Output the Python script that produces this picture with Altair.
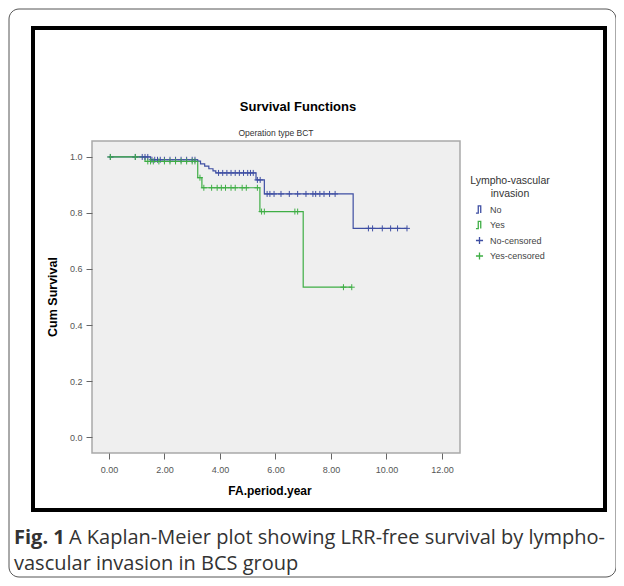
import altair as alt
import pandas as pd

# ---------------- data ----------------
series_names = ["No", "Yes", "No-censored", "Yes-censored"]

# Kaplan-Meier step curves (time in years, cumulative survival)
no_t = [0.0, 1.5, 3.2, 3.3, 3.45, 3.6, 3.75, 3.85, 5.3, 5.6, 8.8, 10.74]
no_s = [1.0, 0.99, 0.985, 0.975, 0.967, 0.958, 0.95, 0.943, 0.918, 0.868, 0.745, 0.745]
yes_t = [0.0, 1.3, 3.2, 3.35, 5.44, 7.0, 8.75]
yes_s = [1.0, 0.984, 0.926, 0.89, 0.805, 0.535, 0.535]

# censored observations (time, survival level at that time)
no_cens_t = [0.05, 0.95, 1.2, 1.3, 1.4, 1.55, 1.65, 1.75, 1.85, 2.0, 2.2, 2.4, 2.6, 2.8, 3.0, 3.1,
             3.95, 4.1, 4.25, 4.4, 4.55, 4.7, 4.85, 5.0, 5.1, 5.2, 5.35, 5.45,
             5.7, 5.8, 5.95, 6.2, 6.5, 6.8, 7.1, 7.35, 7.45, 7.6, 7.75, 7.95, 8.15,
             9.35, 9.5, 9.85, 10.15, 10.4, 10.74]
no_cens_s = [1.0, 1.0, 1.0, 1.0, 1.0, 0.99, 0.99, 0.99, 0.99, 0.99, 0.99, 0.99, 0.99, 0.99, 0.99, 0.99,
             0.943, 0.943, 0.943, 0.943, 0.943, 0.943, 0.943, 0.943, 0.943, 0.943, 0.918, 0.918,
             0.868, 0.868, 0.868, 0.868, 0.868, 0.868, 0.868, 0.868, 0.868, 0.868, 0.868, 0.868, 0.868,
             0.745, 0.745, 0.745, 0.745, 0.745, 0.745]
yes_cens_t = [0.05, 0.95, 1.4, 1.5, 1.6, 1.8, 2.0, 2.2, 2.4, 2.6, 2.8, 3.0, 3.1, 3.28,
              3.42, 3.7, 3.9, 4.05, 4.2, 4.4, 4.55, 4.8, 4.95, 5.35,
              5.5, 5.6, 6.7, 6.8, 8.45, 8.75]
yes_cens_s = [1.0, 1.0, 0.984, 0.984, 0.984, 0.984, 0.984, 0.984, 0.984, 0.984, 0.984, 0.984, 0.984, 0.926,
              0.89, 0.89, 0.89, 0.89, 0.89, 0.89, 0.89, 0.89, 0.89, 0.89,
              0.805, 0.805, 0.805, 0.805, 0.535, 0.535]

x_ticks = [0, 2, 4, 6, 8, 10, 12]
y_ticks = [0.0, 0.2, 0.4, 0.6, 0.8, 1.0]

# ---------------- tables ----------------
curves = pd.concat([
    pd.DataFrame({"t": no_t, "s": no_s, "series": "No"}),
    pd.DataFrame({"t": yes_t, "s": yes_s, "series": "Yes"}),
])
censored = pd.concat([
    pd.DataFrame({"t": no_cens_t, "s": no_cens_s, "series": "No-censored"}),
    pd.DataFrame({"t": yes_cens_t, "s": yes_cens_s, "series": "Yes-censored"}),
])

BLUE = "#3f4fa3"
GREEN = "#3fae45"
STEP = "M-1,1H-0.35V-1H0.35V1"
PLUS = "M-1,0H1M0,-1V1"

SANS = "Liberation Sans"

xscale = alt.Scale(domain=[-0.61, 12.65], nice=False, zero=False)
yscale = alt.Scale(domain=[-0.057, 1.057], nice=False, zero=False)
cscale = alt.Scale(domain=series_names, range=[BLUE, GREEN, BLUE, GREEN])
sscale = alt.Scale(domain=series_names, range=[STEP, STEP, PLUS, PLUS])

legend = alt.Legend(
    title=["Lympho-vascular", "invasion"],
    orient="none", legendX=378, legendY=35,
    titleFont=SANS, titleFontSize=10.5, titleFontWeight="normal", titleColor="#333",
    titleAlign="center", titleAnchor="middle", titlePadding=6,
    labelFont=SANS, labelFontSize=9, labelColor="#444", labelOffset=6,
    symbolSize=50, symbolStrokeWidth=1.3, rowPadding=2.5,
)

xaxis = alt.Axis(values=x_ticks, format=".2f", title=None, grid=False, domain=False,
                 labelFont=SANS, labelFontSize=9, labelColor="#555",
                 tickColor="#666", tickSize=6, labelPadding=6)
yaxis = alt.Axis(values=y_ticks, format=".1f", title=None, grid=False, domain=False,
                 labelFont=SANS, labelFontSize=9, labelColor="#555",
                 tickColor="#666", tickSize=6, labelPadding=4)

one = alt.Data(values=[{}])


def deco_text(txt, x, y, size, weight="normal", font=SANS, color="#000", align="center", angle=0):
    return alt.Chart(one).mark_text(
        text=txt, font=font, fontSize=size, fontWeight=weight, color=color,
        align=align, baseline="middle", angle=angle, clip=False,
    ).encode(x=alt.value(x), y=alt.value(y))


outer_box = alt.Chart(one).mark_rect(
    fillOpacity=0, stroke="#555", strokeWidth=1, cornerRadius=10, clip=False
).encode(x=alt.value(-83), x2=alt.value(524), y=alt.value(-132), y2=alt.value(436))

frame = alt.Chart(one).mark_rect(
    fillOpacity=0, stroke="#000", strokeWidth=4, clip=False
).encode(x=alt.value(-59), x2=alt.value(513), y=alt.value(-113), y2=alt.value(369))

lines = alt.Chart(curves).mark_line(interpolate="step-after", strokeWidth=1.2).encode(
    x=alt.X("t:Q", scale=xscale, axis=xaxis),
    y=alt.Y("s:Q", scale=yscale, axis=yaxis),
    color=alt.Color("series:N", scale=cscale, legend=legend),
    detail="series:N",
)

points = alt.Chart(censored).mark_point(filled=False, size=36, strokeWidth=1, opacity=1).encode(
    x=alt.X("t:Q", scale=xscale, axis=xaxis),
    y=alt.Y("s:Q", scale=yscale, axis=yaxis),
    color=alt.Color("series:N", scale=cscale, legend=legend),
    shape=alt.Shape("series:N", scale=sscale, legend=legend),
)

title_txt = deco_text("Survival Functions", 206, -34, 13, "bold")
sub_txt = deco_text("Operation type  BCT", 184, -8, 8.5, color="#333")
ytitle = deco_text("Cum Survival", -39, 156, 12.5, "bold", angle=270)
xtitle = deco_text("FA.period.year", 178, 350, 12, "bold")

CAP = "Open Sans"
cap1a = deco_text("Fig. 1", -78, 397, 20, "bold", font=CAP, color="#333", align="left")
cap1b = deco_text("A Kaplan-Meier plot showing LRR-free survival by lympho-", -23, 397, 20,
                  font=CAP, color="#333", align="left")
cap2 = deco_text("vascular invasion in BCS group", -78, 423, 20, font=CAP, color="#333", align="left")

chart = alt.layer(
    outer_box, frame, lines, points,
    title_txt, sub_txt, ytitle, xtitle, cap1a, cap1b, cap2,
).properties(
    width=368, height=312,
    autosize=alt.AutoSizeParams(type="none"),
    padding={"left": 84, "top": 133, "right": 156, "bottom": 125},
    background="white",
).configure_view(
    fill="#efefef", stroke="#a9a9a9", strokeWidth=1.5,
)

chart.save("out.html", embed_options={"renderer": "svg", "actions": False})
